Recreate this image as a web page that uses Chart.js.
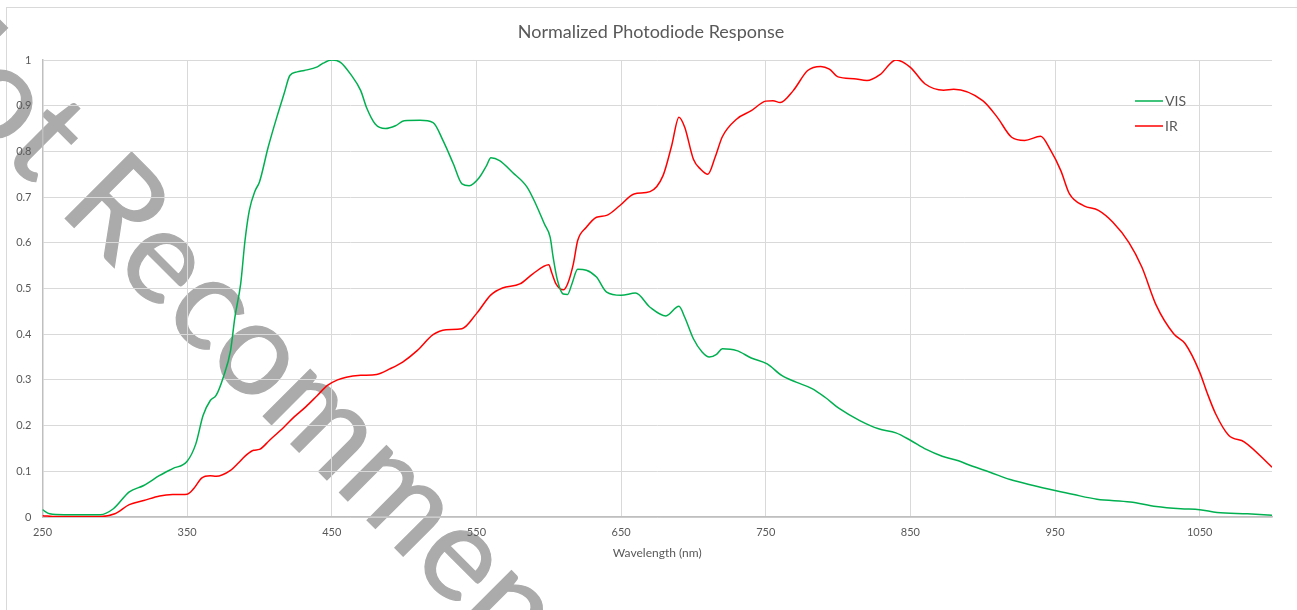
<!DOCTYPE html>
<html>
<head>
<meta charset="utf-8">
<title>Normalized Photodiode Response</title>
<script src="https://cdn.jsdelivr.net/npm/chart.js@4.4.1/dist/chart.umd.min.js"></script>
<style>
  body { margin: 0; background: #fff; }
  #wrap { position: relative; width: 1297px; height: 610px; overflow: hidden; }
  #frame { position: absolute; left: 6px; top: 7px; width: 1400px; height: 700px;
           border-left: 1px solid #d9d9d9; border-top: 1px solid #d9d9d9; }
  #stamp { position: absolute; left: -39px; top: -50px; transform-origin: 0 0; transform: rotate(45deg);
           font: 131px Lato; line-height: 1; color: #ababab; -webkit-text-stroke: 1.2px #ababab; white-space: nowrap; }
  #chart { position: absolute; left: 0; top: 0; }
</style>
</head>
<body>
<div id="wrap">
  <div id="frame"></div>
  <div id="stamp">Not Recommended</div>
  <canvas id="chart" width="1297" height="610"></canvas>
</div>
<script>
// ---------- data ----------
const xTicks = [250, 350, 450, 550, 650, 750, 850, 950, 1050];

const visWavelength = [250, 255, 265, 280, 290, 299, 310, 320, 331, 340, 350, 356, 361, 366, 370, 375, 380, 383, 387, 390,
  393, 397, 400, 406, 412, 417, 421, 426, 431, 440, 444, 450, 456, 463, 470, 474, 480, 487, 494, 500,
  511, 520, 527, 534, 540, 545, 552, 557, 560, 566, 575, 585, 591, 597, 601, 603, 606, 610, 613, 616,
  620, 626, 633, 640, 650, 660, 670, 681, 690, 694, 700, 706, 711, 716, 720, 730, 740, 751, 761, 771,
  782, 791, 801, 815, 828, 840, 850, 861, 872, 882, 893, 905, 919, 935, 950, 963, 979, 1002, 1020, 1037,
  1050, 1062, 1083, 1100];
const visResponse = [0.016, 0.007, 0.005, 0.005, 0.005, 0.018, 0.055, 0.069, 0.091, 0.106, 0.122, 0.160, 0.222, 0.255, 0.266, 0.306, 0.364, 0.437, 0.510, 0.605,
  0.671, 0.714, 0.733, 0.809, 0.875, 0.926, 0.966, 0.974, 0.977, 0.985, 0.993, 1.0, 0.995, 0.969, 0.933, 0.896, 0.860, 0.850, 0.856, 0.867,
  0.868, 0.863, 0.823, 0.773, 0.729, 0.725, 0.743, 0.769, 0.786, 0.780, 0.754, 0.722, 0.685, 0.641, 0.612, 0.569, 0.518, 0.488, 0.487, 0.510,
  0.542, 0.540, 0.525, 0.492, 0.485, 0.490, 0.459, 0.440, 0.461, 0.437, 0.390, 0.361, 0.350, 0.356, 0.368, 0.364, 0.348, 0.335, 0.310, 0.295,
  0.281, 0.262, 0.237, 0.211, 0.193, 0.184, 0.168, 0.148, 0.133, 0.124, 0.111, 0.098, 0.082, 0.069, 0.058, 0.049, 0.039, 0.033, 0.023, 0.018,
  0.016, 0.010, 0.007, 0.004];

const irWavelength = [250, 260, 290, 300, 310, 320, 331, 340, 350, 355, 360, 366, 370, 380, 385, 391, 396, 400, 407, 417,
  424, 432, 440, 447, 454, 460, 470, 481, 490, 499, 509, 520, 529, 540, 550, 560, 568, 580, 589, 600,
  602, 605, 610, 613, 617, 620, 626, 633, 640, 649, 659, 670, 679, 685, 690, 694, 700, 705, 710, 715,
  720, 730, 740, 750, 755, 760, 769, 779, 788, 794, 800, 811, 820, 829, 840, 850, 860, 873, 880, 900,
  910, 920, 929, 940, 947, 954, 960, 970, 980, 990, 1001, 1010, 1020, 1032, 1040, 1050, 1055, 1061, 1070, 1081,
  1100];
const irResponse = [0.003, 0.001, 0.001, 0.007, 0.027, 0.036, 0.046, 0.049, 0.050, 0.064, 0.085, 0.090, 0.089, 0.102, 0.117, 0.136, 0.146, 0.148, 0.168, 0.197,
  0.219, 0.241, 0.266, 0.288, 0.300, 0.306, 0.310, 0.312, 0.324, 0.339, 0.364, 0.399, 0.410, 0.412, 0.445, 0.486, 0.501, 0.510, 0.532, 0.552,
  0.535, 0.510, 0.497, 0.510, 0.554, 0.605, 0.634, 0.656, 0.660, 0.681, 0.707, 0.712, 0.747, 0.813, 0.875, 0.853, 0.783, 0.761, 0.750, 0.787,
  0.832, 0.871, 0.889, 0.910, 0.911, 0.907, 0.933, 0.977, 0.986, 0.980, 0.963, 0.959, 0.955, 0.968, 1.0, 0.984, 0.948, 0.934, 0.936, 0.911,
  0.875, 0.831, 0.824, 0.833, 0.802, 0.758, 0.707, 0.681, 0.671, 0.645, 0.601, 0.547, 0.463, 0.401, 0.379, 0.317, 0.273, 0.226, 0.179, 0.164,
  0.109];

const toPoints = (xs, ys) => xs.map((x, i) => ({ x, y: ys[i] }));
const textGrey = "#595959";

// legend sits inside the plot, top right, like the original
const insideLegend = {
  id: "insideLegend",
  afterDraw(chart) {
    const ctx = chart.ctx;
    ctx.save();
    ctx.font = "14px Lato";
    ctx.textBaseline = "middle";
    chart.data.datasets.forEach((ds, i) => {
      const y = 101 + i * 25;
      ctx.strokeStyle = ds.borderColor;
      ctx.lineWidth = 1.5;
      ctx.beginPath();
      ctx.moveTo(1135, y);
      ctx.lineTo(1163, y);
      ctx.stroke();
      ctx.fillStyle = textGrey;
      ctx.fillText(ds.label, 1165, y);
    });
    ctx.restore();
  },
};

new Chart(document.getElementById("chart"), {
  type: "line",
  data: {
    datasets: [
      { label: "VIS", data: toPoints(visWavelength, visResponse), borderColor: "#00b050", borderWidth: 1.5 },
      { label: "IR", data: toPoints(irWavelength, irResponse), borderColor: "#ff0000", borderWidth: 1.5 },
    ],
  },
  options: {
    responsive: false,
    animation: false,
    layout: { padding: { left: 15, right: 10, top: 0, bottom: 49.8 } },
    elements: { point: { radius: 0 }, line: { cubicInterpolationMode: "monotone" } },
    plugins: {
      legend: { display: false },
      tooltip: { enabled: false },
      title: {
        display: true,
        text: "Normalized Photodiode Response",
        color: textGrey,
        font: { family: "Lato", size: 18, weight: "normal" },
        padding: { top: 21, bottom: 17.4 },
      },
    },
    scales: {
      x: {
        type: "linear", min: 250, max: 1100,
        afterBuildTicks: (s) => { s.ticks = xTicks.map((v) => ({ value: v })); },
        afterFit: (s) => { s.height = 43.2; },
        ticks: { color: textGrey, font: { family: "Lato", size: 11 }, padding: 9, maxRotation: 0, autoSkip: false,
                 callback: (v) => String(v) },
        grid: { color: "#d9d9d9", drawTicks: false },
        border: { color: "#bfbfbf", width: 1.5 },
        title: { display: true, text: "Wavelength (nm)", color: textGrey, font: { family: "Lato", size: 12 }, padding: 0 },
      },
      y: {
        min: 0, max: 1,
        afterFit: (s) => { s.width = 27.5; },
        ticks: { stepSize: 0.1, color: textGrey, font: { family: "Lato", size: 11 }, padding: 11,
                 callback: (v) => String(Math.round(v * 10) / 10) },
        grid: { color: "#d9d9d9", drawTicks: false },
        border: { color: "#bfbfbf", width: 1.5 },
      },
      // empty right-hand spacer so the plot ends where the original does
      spacer: {
        position: "right", min: 0, max: 1,
        afterFit: (s) => { s.width = 15; },
        ticks: { display: false },
        grid: { display: false },
        border: { display: false },
      },
    },
  },
  plugins: [insideLegend],
});
</script>
</body>
</html>
